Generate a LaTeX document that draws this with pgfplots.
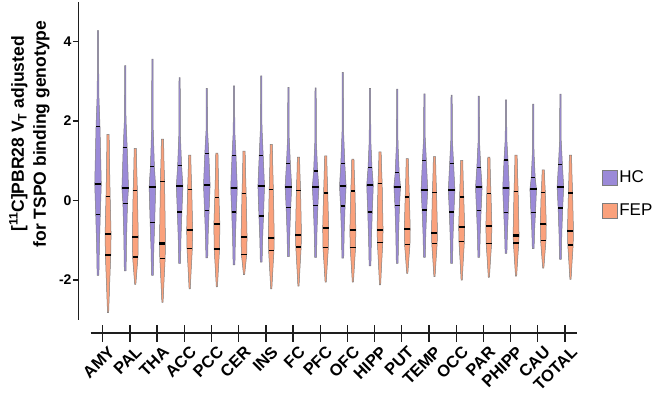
\documentclass[border=0pt]{standalone}
\usepackage{pgfplots}
\pgfplotsset{compat=1.18}
\usepackage{fontspec}
\setmainfont{Liberation Sans}
\definecolor{hc}{RGB}{155,138,216}
\definecolor{fep}{RGB}{250,161,124}
\definecolor{vgray}{RGB}{125,125,125}
\definecolor{axc}{RGB}{30,30,30}
\pgfplotsset{
  vout/.style={draw=vgray, line width=0.5pt, mark=none},
  qline/.style={black, line width=1.2pt, mark=none},
  mline/.style={black, line width=2.1pt, mark=none},
}
% #1 id, #2 category index, #3 min, #4 lower tail, #5 Q1, #6 median, #7 Q3, #8 upper tail, #9 max
\newcommand{\hcv}[9]{%
  \addplot[vout, fill=hc] table[row sep=\\, x expr=#2-0.17+\thisrow{w}/27.2, y=y]
   {w y\\ 0.9 #3\\ 1.4 #4\\ 2.3 #5\\ 3.3 #6\\ 2.0 #7\\ 0.8 #8\\ 0.6 #9\\ -0.6 #9\\ -0.8 #8\\ -2.0 #7\\ -3.3 #6\\ -2.3 #5\\ -1.4 #4\\ -0.9 #3\\ 0.9 #3\\};
  \addplot[qline] table[row sep=\\, x expr=#2-0.17+\thisrow{w}/27.2, y=y] {w y\\ -2.3 #5\\ 2.3 #5\\};
  \addplot[qline] table[row sep=\\, x expr=#2-0.17+\thisrow{w}/27.2, y=y] {w y\\ -2.0 #7\\ 2.0 #7\\};
  \addplot[mline] table[row sep=\\, x expr=#2-0.17+\thisrow{w}/27.2, y=y] {w y\\ -3.3 #6\\ 3.3 #6\\};
}
\newcommand{\fepv}[9]{%
  \addplot[vout, fill=fep] table[row sep=\\, x expr=#2+0.2+\thisrow{w}/27.2, y=y]
   {w y\\ 0.6 #3\\ 1.6 #4\\ 2.7 #5\\ 3.0 #6\\ 2.1 #7\\ 1.5 #8\\ 1.1 #9\\ -1.1 #9\\ -1.5 #8\\ -2.1 #7\\ -3.0 #6\\ -2.7 #5\\ -1.6 #4\\ -0.6 #3\\ 0.6 #3\\};
  \addplot[qline] table[row sep=\\, x expr=#2+0.2+\thisrow{w}/27.2, y=y] {w y\\ -2.7 #5\\ 2.7 #5\\};
  \addplot[qline] table[row sep=\\, x expr=#2+0.2+\thisrow{w}/27.2, y=y] {w y\\ -2.1 #7\\ 2.1 #7\\};
  \addplot[mline] table[row sep=\\, x expr=#2+0.2+\thisrow{w}/27.2, y=y] {w y\\ -3.0 #6\\ 3.0 #6\\};
}
\begin{document}
\begin{tikzpicture}
\useasboundingbox (0pt,0pt) rectangle (662pt,400pt);
\begin{axis}[
  at={(78.7pt,80.1pt)}, anchor=south west,
  scale only axis, width=498.3pt, height=318.4pt,
  xmin=-0.88, xmax=17.44, ymin=-3, ymax=5,
  axis x line=none, axis y line*=left,
  ytick={-2,0,2,4},
  tick align=outside, major tick length=6pt,
  axis line style={line width=1.5pt, axc},
  every tick/.style={line width=1.3pt, axc},
  /pgf/number format/assume math mode=true,
  yticklabel style={font=\fontsize{14}{14}\selectfont\bfseries, inner sep=1pt},
  legend style={at={(1.0496,0.476)}, anchor=north west, draw=none, fill=none,
    font=\fontsize{17}{17}\selectfont, row sep=16pt, inner sep=0pt},
  legend cell align=left,
]
\addlegendimage{legend image code/.code={\draw[fill=hc, draw=vgray] (0pt,-7.5pt) rectangle (15pt,7.5pt);}}
\addlegendentry{HC}
\addlegendimage{legend image code/.code={\draw[fill=fep, draw=vgray] (0pt,-7.5pt) rectangle (15pt,7.5pt);}}
\addlegendentry{FEP}
\hcv{1}{0}{-1.88}{-1.12}{-0.36}{0.41}{1.85}{2.70}{4.27}
\hcv{2}{1}{-1.77}{-0.92}{-0.07}{0.31}{1.33}{2.05}{3.39}
\hcv{3}{2}{-1.88}{-1.22}{-0.55}{0.34}{0.85}{1.80}{3.55}
\hcv{4}{3}{-1.58}{-0.94}{-0.29}{0.36}{0.87}{1.65}{3.09}
\hcv{5}{4}{-1.44}{-0.85}{-0.26}{0.39}{1.18}{1.75}{2.82}
\hcv{6}{5}{-1.62}{-0.96}{-0.29}{0.31}{1.13}{1.74}{2.88}
\hcv{7}{6}{-1.55}{-0.97}{-0.39}{0.36}{1.13}{1.83}{3.13}
\hcv{8}{7}{-1.41}{-0.80}{-0.18}{0.35}{0.92}{1.59}{2.84}
\hcv{9}{8}{-1.43}{-0.78}{-0.13}{0.33}{0.74}{1.47}{2.83}
\hcv{10}{9}{-1.45}{-0.80}{-0.14}{0.36}{0.93}{1.73}{3.22}
\hcv{11}{10}{-1.64}{-0.97}{-0.29}{0.38}{0.82}{1.52}{2.82}
\hcv{12}{11}{-1.58}{-0.85}{-0.12}{0.35}{0.70}{1.44}{2.80}
\hcv{13}{12}{-1.43}{-0.84}{-0.24}{0.26}{1.00}{1.59}{2.68}
\hcv{14}{13}{-1.58}{-0.94}{-0.29}{0.26}{0.92}{1.53}{2.65}
\hcv{15}{14}{-1.43}{-0.85}{-0.26}{0.33}{0.82}{1.45}{2.62}
\hcv{16}{15}{-1.33}{-0.82}{-0.30}{0.31}{1.02}{1.55}{2.53}
\hcv{17}{16}{-1.21}{-0.76}{-0.30}{0.28}{0.57}{1.22}{2.42}
\hcv{18}{17}{-1.48}{-0.84}{-0.19}{0.34}{0.90}{1.52}{2.67}
\fepv{1}{0}{-2.82}{-2.10}{-1.37}{-0.85}{0.10}{0.88}{1.66}
\fepv{2}{1}{-2.11}{-1.77}{-1.42}{-0.91}{0.26}{0.79}{1.31}
\fepv{3}{2}{-2.56}{-2.01}{-1.45}{-1.08}{0.47}{1.01}{1.54}
\fepv{4}{3}{-2.22}{-1.71}{-1.20}{-0.74}{0.27}{0.71}{1.14}
\fepv{5}{4}{-2.17}{-1.70}{-1.22}{-0.60}{0.07}{0.63}{1.19}
\fepv{6}{5}{-1.86}{-1.61}{-1.35}{-0.92}{0.18}{0.71}{1.24}
\fepv{7}{6}{-2.22}{-1.74}{-1.26}{-0.95}{0.28}{0.85}{1.41}
\fepv{8}{7}{-2.15}{-1.66}{-1.17}{-0.87}{0.26}{0.68}{1.09}
\fepv{9}{8}{-2.05}{-1.62}{-1.19}{-0.69}{0.19}{0.66}{1.12}
\fepv{10}{9}{-2.05}{-1.62}{-1.18}{-0.74}{0.24}{0.64}{1.04}
\fepv{11}{10}{-2.12}{-1.59}{-1.06}{-0.74}{0.43}{0.83}{1.22}
\fepv{12}{11}{-1.83}{-1.47}{-1.11}{-0.72}{0.09}{0.57}{1.05}
\fepv{13}{12}{-1.91}{-1.50}{-1.09}{-0.81}{0.20}{0.65}{1.10}
\fepv{14}{13}{-2.00}{-1.52}{-1.04}{-0.67}{0.09}{0.55}{1.01}
\fepv{15}{14}{-1.93}{-1.51}{-1.09}{-0.63}{0.18}{0.64}{1.09}
\fepv{16}{15}{-1.90}{-1.49}{-1.07}{-0.88}{0.23}{0.69}{1.14}
\fepv{17}{16}{-1.70}{-1.36}{-1.01}{-0.60}{0.20}{0.49}{0.77}
\fepv{18}{17}{-1.98}{-1.55}{-1.12}{-0.76}{0.19}{0.67}{1.14}
\end{axis}
\begin{axis}[
  at={(90.7pt,67pt)}, anchor=south west,
  scale only axis, width=486.3pt, height=10pt,
  xmin=-0.44, xmax=17.44, ymin=0, ymax=1,
  axis y line=none, axis x line*=bottom,
  xtick={0,...,17},
  xticklabels={AMY,PAL,THA,ACC,PCC,CER,INS,FC,PFC,OFC,HIPP,PUT,TEMP,OCC,PAR,PHIPP,CAU,TOTAL},
  xtick align=center, major tick length=17pt,
  axis line style={line width=1.5pt, axc},
  every tick/.style={line width=1.3pt, axc},
  xticklabel style={font=\fontsize{16.5}{16.5}\selectfont\bfseries, rotate=45, anchor=north east, inner sep=1pt, yshift=-5pt, xshift=2pt},
]
\addplot[draw=none] coordinates {(0,0.5)};
\end{axis}
\node[rotate=90, align=center, font=\fontsize{17.5}{22}\selectfont\bfseries] at (29.5pt,266pt)
  {[\textsuperscript{11}C]PBR28 V\textsubscript{T} adjusted\\for TSPO binding genotype};
\end{tikzpicture}
\end{document}
